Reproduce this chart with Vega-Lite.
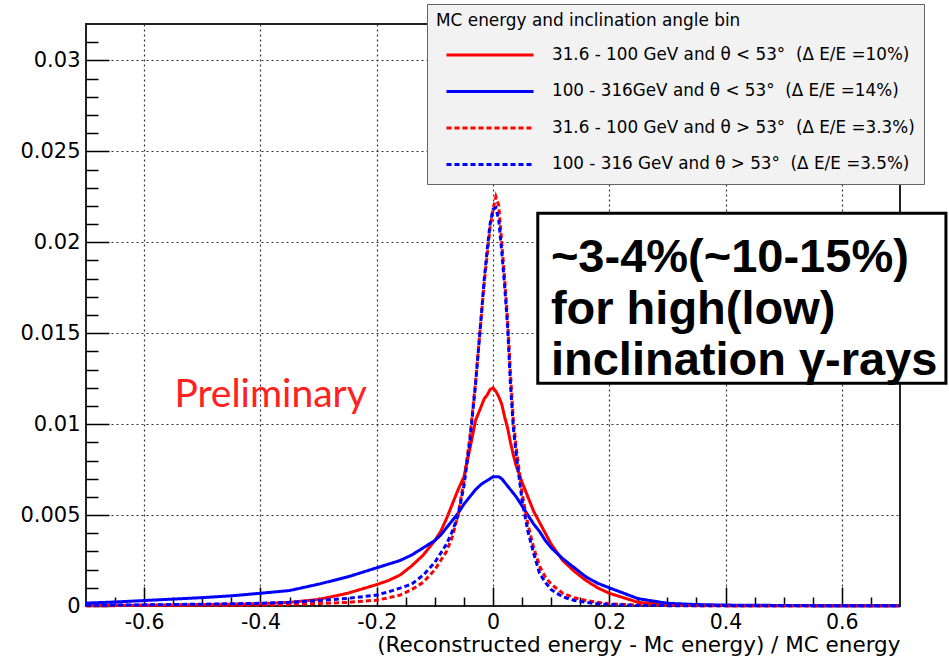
{
  "$schema": "https://vega.github.io/schema/vega-lite/v6.json",
  "width": 814,
  "height": 582,
  "autosize": {"type": "none"},
  "padding": {"left": 86, "top": 24, "right": 49, "bottom": 55},
  "background": "#ffffff",
  "config": {
    "view": {"stroke": "#222222", "strokeWidth": 2},
    "legend": {
      "fillColor": "#f2f2f2",
      "strokeColor": "#666666",
      "padding": 9,
      "titleFont": "DejaVu Sans",
      "titleFontSize": 16.9,
      "titleFontWeight": "normal",
      "titleColor": "#000000",
      "titlePadding": 15,
      "titleLimit": 700,
      "labelFont": "DejaVu Sans",
      "labelFontSize": 16.8,
      "labelColor": "#000000",
      "labelOffset": 17,
      "labelLimit": 700,
      "symbolType": "stroke",
      "symbolSize": 7569,
      "symbolStrokeWidth": 3,
      "symbolOffset": 9,
      "clipHeight": 20,
      "rowPadding": 16.5
    }
  },
  "data": {
    "values": [
      {"x": -0.7, "a": 0.00003, "b": 0.00016, "c": 0.00002, "d": 0.00004},
      {"x": -0.65, "a": 0.00004, "b": 0.00022, "c": 0.00002, "d": 0.00005},
      {"x": -0.6, "a": 0.00005, "b": 0.0003, "c": 0.00003, "d": 0.00006},
      {"x": -0.55, "a": 0.00006, "b": 0.00038, "c": 0.00003, "d": 0.00008},
      {"x": -0.5, "a": 0.00008, "b": 0.00046, "c": 0.00004, "d": 0.0001},
      {"x": -0.45, "a": 0.0001, "b": 0.00056, "c": 0.00004, "d": 0.00012},
      {"x": -0.4, "a": 0.00013, "b": 0.0007, "c": 0.00006, "d": 0.00015},
      {"x": -0.35, "a": 0.0002, "b": 0.00085, "c": 0.00009, "d": 0.0002},
      {"x": -0.3, "a": 0.00036, "b": 0.0012, "c": 0.00014, "d": 0.0003},
      {"x": -0.25, "a": 0.0007, "b": 0.0016, "c": 0.0002, "d": 0.00042},
      {"x": -0.2, "a": 0.00118, "b": 0.0021, "c": 0.00032, "d": 0.0006},
      {"x": -0.18, "a": 0.0014, "b": 0.0023, "c": 0.00045, "d": 0.00078},
      {"x": -0.16, "a": 0.0017, "b": 0.0025, "c": 0.0006, "d": 0.00098},
      {"x": -0.14, "a": 0.0022, "b": 0.0028, "c": 0.0009, "d": 0.0012},
      {"x": -0.12, "a": 0.0028, "b": 0.0032, "c": 0.0013, "d": 0.0017},
      {"x": -0.1, "a": 0.0036, "b": 0.0036, "c": 0.002, "d": 0.0024},
      {"x": -0.09, "a": 0.0041, "b": 0.0039, "c": 0.0025, "d": 0.0029},
      {"x": -0.08, "a": 0.0048, "b": 0.0043, "c": 0.003, "d": 0.0034},
      {"x": -0.07, "a": 0.0056, "b": 0.0047, "c": 0.0038, "d": 0.0041},
      {"x": -0.06, "a": 0.0064, "b": 0.0051, "c": 0.005, "d": 0.005},
      {"x": -0.05, "a": 0.0071, "b": 0.0056, "c": 0.0069, "d": 0.0066},
      {"x": -0.04, "a": 0.0086, "b": 0.006, "c": 0.0092, "d": 0.009},
      {"x": -0.03, "a": 0.0102, "b": 0.0064, "c": 0.0123, "d": 0.0122},
      {"x": -0.02, "a": 0.011, "b": 0.0067, "c": 0.016, "d": 0.016},
      {"x": -0.015, "a": 0.0114, "b": 0.0068, "c": 0.0178, "d": 0.018},
      {"x": -0.01, "a": 0.0116, "b": 0.0069, "c": 0.0193, "d": 0.0196},
      {"x": -0.005, "a": 0.0119, "b": 0.007, "c": 0.0208, "d": 0.021},
      {"x": 0, "a": 0.012, "b": 0.0071, "c": 0.0218, "d": 0.0218},
      {"x": 0.005, "a": 0.0118, "b": 0.0071, "c": 0.0225, "d": 0.0219},
      {"x": 0.01, "a": 0.0115, "b": 0.0071, "c": 0.022, "d": 0.0212},
      {"x": 0.015, "a": 0.0111, "b": 0.007, "c": 0.02, "d": 0.0195},
      {"x": 0.02, "a": 0.0104, "b": 0.0068, "c": 0.018, "d": 0.0176},
      {"x": 0.025, "a": 0.0098, "b": 0.0066, "c": 0.0158, "d": 0.0154},
      {"x": 0.03, "a": 0.009, "b": 0.0064, "c": 0.0128, "d": 0.0122},
      {"x": 0.035, "a": 0.0083, "b": 0.0062, "c": 0.0102, "d": 0.0098},
      {"x": 0.04, "a": 0.0077, "b": 0.006, "c": 0.0087, "d": 0.0083},
      {"x": 0.05, "a": 0.0068, "b": 0.0055, "c": 0.0062, "d": 0.0058},
      {"x": 0.06, "a": 0.006, "b": 0.005, "c": 0.0045, "d": 0.0041},
      {"x": 0.07, "a": 0.0052, "b": 0.0045, "c": 0.0032, "d": 0.0029},
      {"x": 0.08, "a": 0.0046, "b": 0.0041, "c": 0.0022, "d": 0.0018},
      {"x": 0.09, "a": 0.004, "b": 0.0036, "c": 0.0016, "d": 0.0013},
      {"x": 0.1, "a": 0.0034, "b": 0.0032, "c": 0.0012, "d": 0.0009},
      {"x": 0.12, "a": 0.0025, "b": 0.0026, "c": 0.0007, "d": 0.0005},
      {"x": 0.14, "a": 0.0019, "b": 0.0021, "c": 0.00045, "d": 0.0003},
      {"x": 0.16, "a": 0.0014, "b": 0.0016, "c": 0.0003, "d": 0.0002},
      {"x": 0.18, "a": 0.001, "b": 0.00125, "c": 0.0002, "d": 0.00012},
      {"x": 0.2, "a": 0.0007, "b": 0.001, "c": 0.00012, "d": 0.00008},
      {"x": 0.25, "a": 0.0002, "b": 0.0004, "c": 0.00005, "d": 0.00003},
      {"x": 0.3, "a": 0.00007, "b": 0.00015, "c": 0.00003, "d": 0.00002},
      {"x": 0.35, "a": 0.00004, "b": 0.00008, "c": 0.00002, "d": 0.00002},
      {"x": 0.4, "a": 0.00002, "b": 0.00005, "c": 0.00002, "d": 0.00001},
      {"x": 0.45, "a": 0.00002, "b": 0.00004, "c": 0.00001, "d": 0.00001},
      {"x": 0.5, "a": 0.00001, "b": 0.00003, "c": 0.00001, "d": 0.00001},
      {"x": 0.55, "a": 0.00001, "b": 0.00002, "c": 0.00001, "d": 0.00001},
      {"x": 0.6, "a": 0.00001, "b": 0.00002, "c": 0.00001, "d": 0.00001},
      {"x": 0.65, "a": 0.00001, "b": 0.00002, "c": 0.00001, "d": 0.00001},
      {"x": 0.7, "a": 0.00001, "b": 0.00002, "c": 0.00001, "d": 0.00001}
    ]
  },
  "transform": [{"fold": ["a", "b", "c", "d"], "as": ["s", "v"]}],
  "resolve": {"axis": {"x": "independent", "y": "independent"}},
  "layer": [
    {
      "mark": {"type": "line", "strokeWidth": 3, "interpolate": "linear"},
      "encoding": {
        "x": {
          "field": "x", "type": "quantitative",
          "scale": {"domain": [-0.7, 0.7], "nice": false, "zero": false},
          "axis": {
            "orient": "bottom",
            "values": [-0.6, -0.4, -0.2, 0, 0.2, 0.4, 0.6],
            "format": "~g",
            "labelExpr": "replace(datum.label, '−', '-')",
            "tickSize": -19, "tickWidth": 1.5, "tickColor": "#000000",
            "labelPadding": 25,
            "labelFont": "DejaVu Sans", "labelFontSize": 20.5, "labelColor": "#000000",
            "domain": false,
            "grid": true, "gridDash": [2, 3], "gridColor": "#333333", "gridWidth": 1.2,
            "title": "(Reconstructed energy - Mc energy) / MC energy",
            "titleFont": "DejaVu Sans", "titleFontSize": 21.5, "titleFontWeight": "normal", "titleColor": "#000000",
            "titleAnchor": "end", "titlePadding": 2
          }
        },
        "y": {
          "field": "v", "type": "quantitative",
          "scale": {"domain": [0, 0.032], "nice": false, "zero": false},
          "axis": {
            "orient": "left",
            "values": [0, 0.005, 0.01, 0.015, 0.02, 0.025, 0.03],
            "format": "~g",
            "tickSize": -23, "tickWidth": 1.5, "tickColor": "#000000",
            "labelPadding": 29,
            "labelFont": "DejaVu Sans", "labelFontSize": 21, "labelColor": "#000000",
            "domain": false,
            "grid": true, "gridDash": [2, 3], "gridColor": "#333333", "gridWidth": 1.2,
            "title": null
          }
        },
        "color": {
          "field": "s", "type": "nominal",
          "scale": {"domain": ["a", "b", "c", "d"], "range": ["#ff0000", "#0000ff", "#ff0000", "#0000ff"]},
          "legend": {
            "title": "MC energy and inclination angle bin",
            "orient": "none", "legendX": 341, "legendY": -20,
            "labelExpr": "datum.label == 'a' ? '31.6 - 100 GeV and θ < 53°\u00a0 (Δ E/E =10%)' : datum.label == 'b' ? '100 - 316GeV and θ < 53°\u00a0 (Δ E/E =14%)' : datum.label == 'c' ? '31.6 - 100 GeV and θ > 53°\u00a0 (Δ E/E =3.3%)' : '100 - 316 GeV and θ > 53°\u00a0 (Δ E/E =3.5%)'"
          }
        },
        "strokeDash": {
          "field": "s", "type": "nominal",
          "scale": {"domain": ["a", "b", "c", "d"], "range": [[1, 0], [1, 0], [5, 3], [5, 3]]},
          "legend": {
            "title": "MC energy and inclination angle bin",
            "orient": "none", "legendX": 341, "legendY": -20,
            "labelExpr": "datum.label == 'a' ? '31.6 - 100 GeV and θ < 53°\u00a0 (Δ E/E =10%)' : datum.label == 'b' ? '100 - 316GeV and θ < 53°\u00a0 (Δ E/E =14%)' : datum.label == 'c' ? '31.6 - 100 GeV and θ > 53°\u00a0 (Δ E/E =3.3%)' : '100 - 316 GeV and θ > 53°\u00a0 (Δ E/E =3.5%)'"
          }
        },
        "order": {"field": "s", "type": "nominal"}
      }
    },
    {
      "mark": {"type": "point", "opacity": 0},
      "encoding": {
        "x": {
          "field": "x", "type": "quantitative",
          "scale": {"domain": [-0.7, 0.7], "nice": false, "zero": false},
          "axis": {
            "orient": "bottom",
            "values": [-0.65, -0.55, -0.5, -0.45, -0.35, -0.3, -0.25, -0.15, -0.1, -0.05, 0.05, 0.1, 0.15, 0.25, 0.3, 0.35, 0.45, 0.5, 0.55, 0.65],
            "tickSize": -9, "tickWidth": 1.5, "tickColor": "#000000",
            "labels": false, "domain": false, "grid": false, "title": null
          }
        },
        "y": {
          "field": "v", "type": "quantitative",
          "scale": {"domain": [0, 0.032], "nice": false, "zero": false},
          "axis": {
            "orient": "left",
            "values": [0.001, 0.002, 0.003, 0.004, 0.006, 0.007, 0.008, 0.009, 0.011, 0.012, 0.013, 0.014, 0.016, 0.017, 0.018, 0.019, 0.021, 0.022, 0.023, 0.024, 0.026, 0.027, 0.028, 0.029, 0.031],
            "tickSize": -12, "tickWidth": 1.5, "tickColor": "#000000",
            "labels": false, "domain": false, "grid": false, "title": null
          }
        }
      }
    },
    {
      "data": {"values": [{"t": "Preliminary"}]},
      "mark": {"type": "text", "font": "Lato", "fontSize": 39, "color": "#ff2020", "align": "left", "baseline": "alphabetic"},
      "encoding": {
        "x": {"datum": -0.548, "type": "quantitative", "scale": {"domain": [-0.7, 0.7], "nice": false, "zero": false}, "axis": null},
        "y": {"datum": 0.01093, "type": "quantitative", "scale": {"domain": [0, 0.032], "nice": false, "zero": false}, "axis": null},
        "text": {"field": "t"}
      }
    },
    {
      "data": {"values": [{"t": "~3-4%(~10-15%)\nfor high(low)\ninclination γ-rays"}]},
      "layer": [
        {
          "mark": {"type": "rect", "fill": "#ffffff", "stroke": "#000000", "strokeWidth": 3},
          "encoding": {
            "x": {"datum": 0.077, "type": "quantitative", "scale": {"domain": [-0.7, 0.7], "nice": false, "zero": false}, "axis": null},
            "x2": {"datum": 0.779},
            "y": {"datum": 0.0216, "type": "quantitative", "scale": {"domain": [0, 0.032], "nice": false, "zero": false}, "axis": null},
            "y2": {"datum": 0.01225}
          }
        },
        {
          "mark": {"type": "text", "font": "Liberation Sans", "fontWeight": "bold", "fontSize": 47, "color": "#000000", "align": "left", "baseline": "alphabetic", "lineBreak": "\n", "lineHeight": 51.5},
          "encoding": {
            "x": {"datum": 0.0996, "type": "quantitative", "scale": {"domain": [-0.7, 0.7], "nice": false, "zero": false}, "axis": null},
            "y": {"datum": 0.01835, "type": "quantitative", "scale": {"domain": [0, 0.032], "nice": false, "zero": false}, "axis": null},
            "text": {"field": "t"}
          }
        }
      ]
    }
  ]
}
